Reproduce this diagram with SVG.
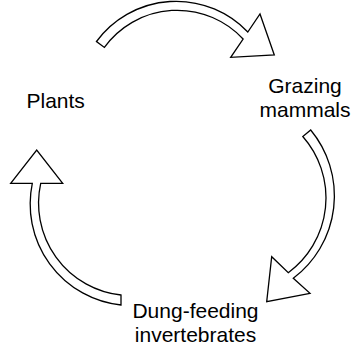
<svg xmlns="http://www.w3.org/2000/svg" width="354" height="346" viewBox="0 0 354 346">
<style>
.arrow{fill:#ffffff;stroke:#000000;stroke-width:1.3;stroke-linejoin:miter}
.lbl{font-family:"Liberation Sans",Arial,Helvetica,sans-serif;font-size:21px;fill:#000000;text-anchor:middle}
</style>
<rect width="354" height="346" fill="#ffffff"/>
<g id="connectors">
<path id="arrow-plants-grazing" class="arrow" d="M96.5,41.5 A99,99 0 0 1 247.8,32 L260,14 L274.3,55 L230.7,57.3 L243.1,39 A90,90 0 0 0 104.4,47.4 Z"/>
<path id="arrow-grazing-dung" class="arrow" d="M310.7,130 A103.3,103.3 0 0 1 293.3,278.3 L310,293.3 L266.7,301.7 L271.7,256.7 L288.3,272.7 A93,93 0 0 0 302.8,136.5 Z"/>
<path id="arrow-dung-plants" class="arrow" d="M121,305 A101.6,101.6 0 0 1 32.3,183.3 L10.7,183.3 L36.7,150 L62.7,183.3 L40.7,183.3 A92.5,92.5 0 0 0 121,295 Z"/>
</g>
<g id="node-plants"><text class="lbl" x="55.7" y="108.3">Plants</text></g>
<g id="node-grazing"><text class="lbl" x="305" y="92.7">Grazing</text><text class="lbl" x="305" y="116.7">mammals</text></g>
<g id="node-dung"><text class="lbl" x="195.5" y="318">Dung-feeding</text><text class="lbl" x="195.5" y="342">invertebrates</text></g>
</svg>
